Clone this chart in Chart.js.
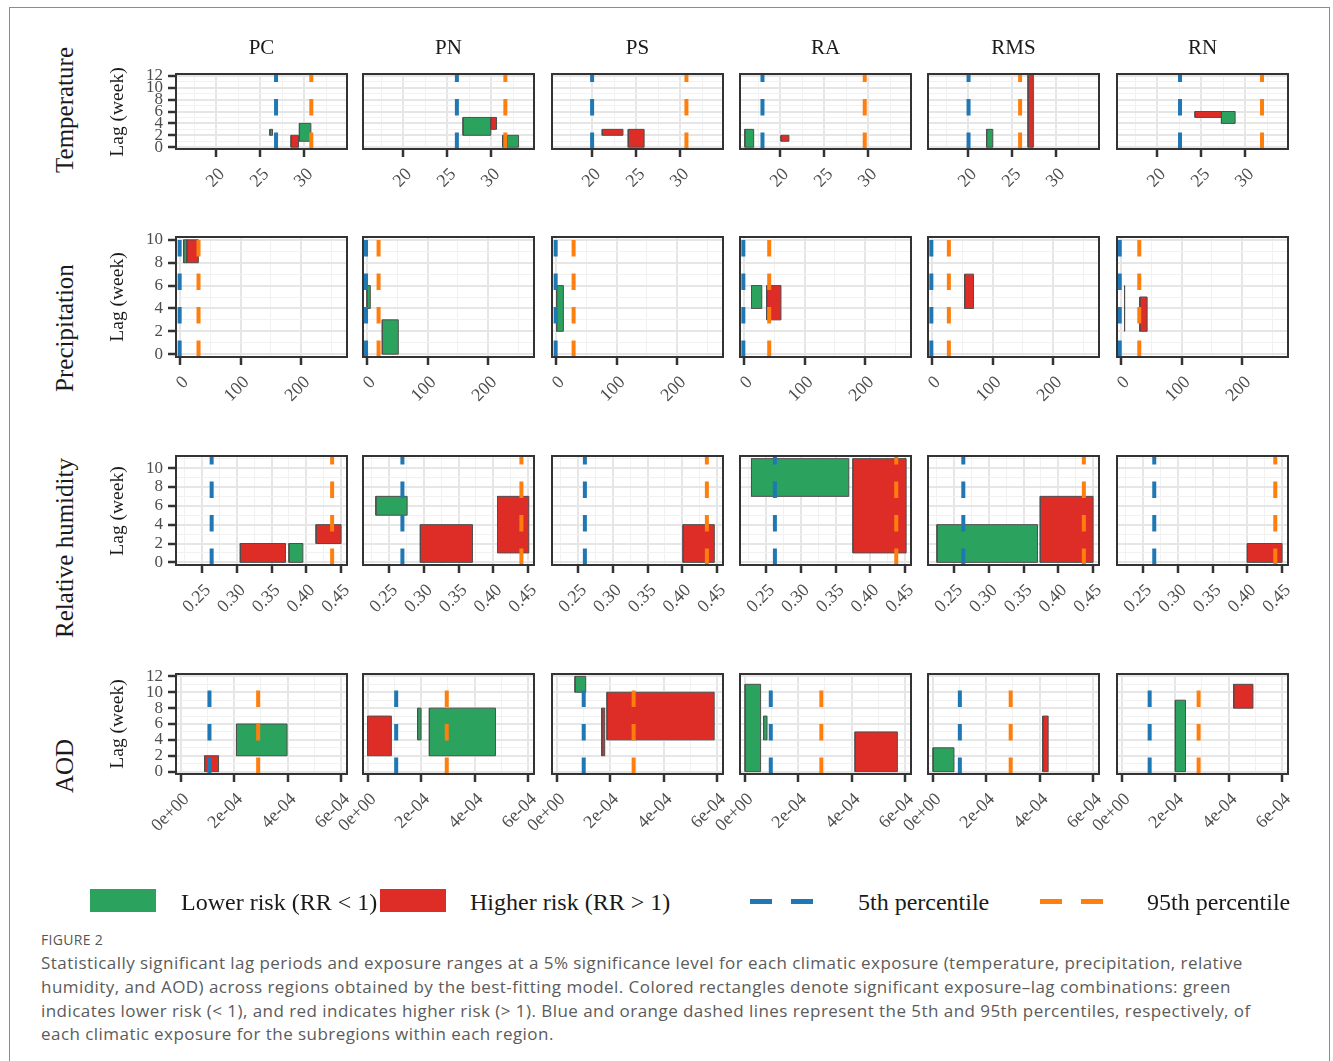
<!DOCTYPE html>
<html><head><meta charset="utf-8">
<script src="https://cdn.jsdelivr.net/npm/chart.js@4.4.1/dist/chart.umd.min.js"></script>
<style>
html,body{margin:0;padding:0;background:#fff;}
body{width:1333px;height:1061px;overflow:hidden;position:relative;font-family:'Liberation Serif',serif;}
.frame{position:absolute;left:9px;top:7px;width:1321px;height:1100px;border:1px solid #8c8c8c;box-sizing:border-box;}
canvas{position:absolute;}
.t{position:absolute;white-space:nowrap;color:#1a1a1a;transform:translate(0,-50%);line-height:1;}
.c{transform:translate(-50%,-50%);}
.r{transform:translate(-50%,-50%) rotate(-90deg);}
.sw{position:absolute;}
.cap{position:absolute;left:41px;white-space:nowrap;font-family:'Open Sans',sans-serif;color:#5b5b5b;font-size:17px;letter-spacing:0.45px;transform:translate(0,-50%);line-height:1.2;}
</style></head><body>
<div class="frame"></div>
<div id="root"></div>
<script>
// ---------------- DATA ----------------
const regions = ['PC', 'PN', 'PS', 'RA', 'RMS', 'RN'];
const exposures = ['Temperature', 'Precipitation', 'Relative humidity', 'AOD'];
const lagTitle = 'Lag (week)';

// Temperature
const tempTicks = [20, 25, 30];
const tempTickLabels = ['20', '25', '30'];
const tempLagTicks = [0, 2, 4, 6, 8, 10, 12];
const tempP5 = [26.8, 26.1, 20.0, 18.0, 20.05, 22.6];
const tempP95 = [30.8, 31.6, 30.7, 29.6, 25.9, 31.9];
const tempRects = [
  ['PC', 26.1, 26.4, 2, 3, 'low'],
  ['PC', 28.5, 29.35, 0, 2, 'high'],
  ['PC', 29.45, 30.75, 1, 4, 'low'],
  ['PN', 26.8, 29.95, 2, 5, 'low'],
  ['PN', 29.95, 30.6, 3, 5, 'high'],
  ['PN', 31.3, 31.8, 0, 2, 'high'],
  ['PN', 31.8, 33.1, 0, 2, 'low'],
  ['PS', 21.15, 23.5, 2, 3, 'high'],
  ['PS', 24.1, 25.9, 0, 3, 'high'],
  ['RA', 16.0, 17.0, 0, 3, 'low'],
  ['RA', 20.1, 21.0, 1, 2, 'high'],
  ['RMS', 22.1, 22.8, 0, 3, 'low'],
  ['RMS', 26.8, 27.4, 0, 12.3, 'high'],
  ['RN', 24.3, 27.3, 5, 6, 'high'],
  ['RN', 27.3, 28.85, 4, 6, 'low']
];

// Precipitation
const precTicks = [0, 100, 200];
const precTickLabels = ['0', '100', '200'];
const precLagTicks = [0, 2, 4, 6, 8, 10];
const precP5 = [0, -1, 0, -0.5, -0.5, -1.5];
const precP95 = [31, 19.6, 29.5, 42, 28.3, 30.6];
const precRects = [
  ['PC', 6.6, 12, 8, 10, 'low'],
  ['PC', 12, 30.7, 8, 10, 'high'],
  ['PN', 0.5, 6, 4, 6, 'low'],
  ['PN', 25.7, 52, 0, 3, 'low'],
  ['PS', 1.6, 12.7, 2, 6, 'low'],
  ['RA', 12.9, 29.8, 4, 6, 'low'],
  ['RA', 37.9, 61.3, 3, 6, 'high'],
  ['RMS', 54.3, 68.8, 4, 7, 'high'],
  ['RN', 6.2, 6.8, 2, 6, 'low'],
  ['RN', 31.5, 43.5, 2, 5, 'high']
];

// Relative humidity
const rhTicks = [0.25, 0.30, 0.35, 0.40, 0.45];
const rhTickLabels = ['0.25', '0.30', '0.35', '0.40', '0.45'];
const rhLagTicks = [0, 2, 4, 6, 8, 10];
const rhP5 = [0.2638, 0.2692, 0.2598, 0.2627, 0.2633, 0.2661];
const rhP95 = [0.4371, 0.4404, 0.4353, 0.4373, 0.4367, 0.4402];
const rhRects = [
  ['PC', 0.305, 0.370, 0, 2, 'high'],
  ['PC', 0.375, 0.395, 0, 2, 'low'],
  ['PC', 0.414, 0.450, 2, 4, 'high'],
  ['PN', 0.231, 0.276, 5, 7, 'low'],
  ['PN', 0.295, 0.370, 0, 4, 'high'],
  ['PN', 0.406, 0.451, 1, 7, 'high'],
  ['PS', 0.401, 0.446, 0, 4, 'high'],
  ['RA', 0.229, 0.369, 7, 11, 'low'],
  ['RA', 0.375, 0.4515, 1, 11, 'high'],
  ['RMS', 0.2254, 0.370, 0, 4, 'low'],
  ['RMS', 0.374, 0.450, 0, 7, 'high'],
  ['RN', 0.400, 0.450, 0, 2, 'high']
];

// AOD
const aodTicks = [0, 2e-4, 4e-4, 6e-4];
const aodTickLabels = ['0e+00', '2e-04', '4e-04', '6e-04'];
const aodLagTicks = [0, 2, 4, 6, 8, 10, 12];
const aodP5 = [1.08e-4, 1.07e-4, 1.015e-4, 0.98e-4, 1.02e-4, 1.05e-4];
const aodP95 = [2.9e-4, 2.96e-4, 2.88e-4, 2.87e-4, 2.92e-4, 2.88e-4];
const aodRects = [
  ['PC', 0.9e-4, 1.42e-4, 0, 2, 'high'],
  ['PC', 2.09e-4, 3.98e-4, 2, 6, 'low'],
  ['PN', 0, 0.89e-4, 2, 7, 'high'],
  ['PN', 1.87e-4, 2.0e-4, 4, 8, 'low'],
  ['PN', 2.31e-4, 4.78e-4, 2, 8, 'low'],
  ['PS', 0.69e-4, 1.09e-4, 10, 12, 'low'],
  ['PS', 1.69e-4, 1.8e-4, 2, 8, 'high'],
  ['PS', 1.886e-4, 5.89e-4, 4, 10, 'high'],
  ['RA', 0.02e-4, 0.6e-4, 0, 11, 'low'],
  ['RA', 0.71e-4, 0.84e-4, 4, 7, 'low'],
  ['RA', 4.13e-4, 5.71e-4, 0, 5, 'high'],
  ['RMS', 0.02e-4, 0.8e-4, 0, 3, 'low'],
  ['RMS', 4.12e-4, 4.32e-4, 0, 7, 'high'],
  ['RN', 2.01e-4, 2.39e-4, 0, 9, 'low'],
  ['RN', 4.19e-4, 4.91e-4, 8, 11, 'high']
];

const legendLabels = ['Lower risk (RR < 1)', 'Higher risk (RR > 1)', '5th percentile', '95th percentile'];
const figureLabel = 'FIGURE 2';
const captionLines = [
  'Statistically significant lag periods and exposure ranges at a 5% significance level for each climatic exposure (temperature, precipitation, relative',
  'humidity, and AOD) across regions obtained by the best-fitting model. Colored rectangles denote significant exposure\u2013lag combinations: green',
  'indicates lower risk (< 1), and red indicates higher risk (> 1). Blue and orange dashed lines represent the 5th and 95th percentiles, respectively, of',
  'each climatic exposure for the subregions within each region.'
];

// ---------------- STYLE / LAYOUT ----------------
const GREEN = '#2ca25f', RED = '#de2d26', BLUE = '#1f78b4', ORANGE = '#ff7f0e';
const COL_LEFT = [176, 363, 552, 740, 928, 1117];
const BOX_W = 171;
const ROW_BOX = [[74, 149], [237, 357], [456, 565], [674, 774]];
const ROW_LABEL_Y = [110, 328, 548, 766];
const PT = 26, PR = 34, XH = 95, YW = 60, PL_OTHER = 50;

const rows = [
  {ticks: tempTicks, labels: tempTickLabels, lag: tempLagTicks, p5: tempP5, p95: tempP95, rects: tempRects, xmin: 15.45, xmax: 34.85, ymin: -0.3, ymax: 12.3},
  {ticks: precTicks, labels: precTickLabels, lag: precLagTicks, p5: precP5, p95: precP95, rects: precRects, xmin: -6, xmax: 275, ymin: -0.25, ymax: 10.25},
  {ticks: rhTicks, labels: rhTickLabels, lag: rhLagTicks, p5: rhP5, p95: rhP95, rects: rhRects, xmin: 0.2125, xmax: 0.4585, ymin: -0.28, ymax: 11.28},
  {ticks: aodTicks, labels: aodTickLabels, lag: aodLagTicks, p5: aodP5, p95: aodP95, rects: aodRects, xmin: -1.7e-5, xmax: 6.22e-4, ymin: -0.3, ymax: 12.3}
];

function withMinors(majors, min, max) {
  const step = majors[1] - majors[0];
  const out = [];
  for (let v = majors[0] - step / 2; v <= max + 1e-12; v += step / 2) {
    if (v >= min - 1e-12) out.push(v);
  }
  return out;
}
function isMajor(v, majors) {
  const step = majors[1] - majors[0];
  return majors.some(m => Math.abs(m - v) < step * 1e-3);
}
function labelOf(v, majors, labels) {
  const step = majors[1] - majors[0];
  const i = majors.findIndex(m => Math.abs(m - v) < step * 1e-3);
  return i >= 0 ? labels[i] : '';
}

const boxBorder = {
  id: 'boxBorder',
  afterDraw(chart) {
    const {ctx, chartArea: a} = chart;
    ctx.save();
    ctx.strokeStyle = '#333333';
    ctx.lineWidth = 2;
    ctx.strokeRect(a.left, a.top, a.right - a.left, a.bottom - a.top);
    ctx.restore();
  }
};

function gridOpts(majors, showTicks) {
  return {
    color: c => (c.tick && isMajor(c.tick.value, majors)) ? '#e6e6e6' : '#f1f1f1',
    lineWidth: c => (c.tick && isMajor(c.tick.value, majors)) ? 2 : 1,
    drawTicks: showTicks,
    tickLength: 8,
    tickWidth: 2.5,
    tickColor: c => (c.tick && isMajor(c.tick.value, majors)) ? '#333333' : 'rgba(0,0,0,0)'
  };
}

const root = document.getElementById('root');

function addPanel(ri, ci) {
  const row = rows[ri];
  const region = regions[ci];
  const [top, bottom] = ROW_BOX[ri];
  const left = COL_LEFT[ci];
  const first = ci === 0;
  const padL = first ? 0 : PL_OTHER;
  const yw = first ? YW : 0;
  const cw = padL + yw + BOX_W + PR;
  const ch = PT + (bottom - top) + XH;
  const cv = document.createElement('canvas');
  cv.width = cw; cv.height = ch;
  cv.style.left = (left - padL - yw) + 'px';
  cv.style.top = (top - PT) + 'px';
  cv.style.width = cw + 'px'; cv.style.height = ch + 'px';
  root.appendChild(cv);

  const datasets = [];
  const vline = (x, color) => ({
    data: [{x: x, y: row.ymin}, {x: x, y: row.ymax}],
    borderColor: color, borderWidth: 4, borderDash: [16.5, 17], borderCapStyle: 'butt',
    pointRadius: 0, fill: false, tension: 0
  });
  datasets.push(vline(row.p95[ci], ORANGE));
  datasets.push(vline(row.p5[ci], BLUE));
  const rects = row.rects.filter(r => r[0] === region).slice().reverse();
  rects.forEach(r => {
    datasets.push({
      data: [{x: r[1], y: r[3]}, {x: r[2], y: r[3]}, {x: r[2], y: r[4]}, {x: r[1], y: r[4]}, {x: r[1], y: r[3]}],
      fill: 'shape',
      backgroundColor: r[5] === 'low' ? GREEN : RED,
      borderColor: '#4f4f4f', borderWidth: 1, borderJoinStyle: 'miter',
      pointRadius: 0, tension: 0
    });
  });

  const xVals = withMinors(row.ticks, row.xmin, row.xmax);
  const yVals = withMinors(row.lag, row.ymin, row.ymax);

  new Chart(cv, {
    type: 'line',
    data: {datasets},
    options: {
      responsive: false, animation: false, devicePixelRatio: 1,
      layout: {padding: {left: padL, top: PT, right: PR, bottom: 0}},
      plugins: {legend: {display: false}, tooltip: {enabled: false}},
      events: [],
      scales: {
        x: {
          type: 'linear', min: row.xmin, max: row.xmax,
          afterBuildTicks: s => { s.ticks = xVals.map(v => ({value: v})); },
          afterFit: s => { s.height = XH; },
          border: {display: false},
          grid: gridOpts(row.ticks, true),
          ticks: {
            autoSkip: false, maxRotation: 45, minRotation: 45, padding: 7, labelOffset: 6,
            color: '#4d4d4d', font: {family: 'Liberation Serif', size: 18},
            callback: v => labelOf(v, row.ticks, row.labels)
          }
        },
        y: {
          type: 'linear', min: row.ymin, max: row.ymax,
          afterBuildTicks: s => { s.ticks = yVals.map(v => ({value: v})); },
          afterFit: s => { s.width = yw; },
          border: {display: false},
          grid: gridOpts(row.lag, first),
          ticks: {
            display: first, autoSkip: false, padding: 5,
            color: '#4d4d4d', font: {family: 'Liberation Serif', size: 17},
            callback: v => labelOf(v, row.lag, row.lag.map(String))
          }
        }
      }
    },
    plugins: [boxBorder]
  });
}

for (let ri = 0; ri < rows.length; ri++)
  for (let ci = 0; ci < regions.length; ci++) addPanel(ri, ci);

// ---------------- TEXT ----------------
function addText(txt, x, y, cls, style) {
  const d = document.createElement('div');
  d.className = 't ' + cls;
  d.textContent = txt;
  d.style.left = x + 'px'; d.style.top = y + 'px';
  Object.assign(d.style, style || {});
  document.body.appendChild(d);
  return d;
}
regions.forEach((r, i) => addText(r, COL_LEFT[i] + BOX_W / 2, 47, 'c', {fontSize: '21px'}));
exposures.forEach((e, i) => addText(e, 64, ROW_LABEL_Y[i], 'r', {fontSize: '25px'}));
ROW_BOX.forEach(([t, b]) => addText(lagTitle, 117, (t + b) / 2, 'r', {fontSize: '19.5px'}));

// legend
function sw(x, y, w, h, color) {
  const d = document.createElement('div');
  d.className = 'sw';
  Object.assign(d.style, {left: x + 'px', top: y + 'px', width: w + 'px', height: h + 'px', background: color});
  document.body.appendChild(d);
}
sw(90, 889, 66, 23, GREEN);
sw(380, 889, 66, 23, RED);
sw(750, 898.5, 22, 5, BLUE); sw(791, 898.5, 22, 5, BLUE);
sw(1040, 898.5, 22, 5, ORANGE); sw(1081, 898.5, 22, 5, ORANGE);
const legX = [181, 470, 858, 1147];
legendLabels.forEach((l, i) => addText(l, legX[i], 902, '', {fontSize: '24px'}));

// caption
const fig = document.createElement('div');
fig.className = 'cap';
fig.textContent = figureLabel;
Object.assign(fig.style, {top: '940px', fontSize: '14px', letterSpacing: '0.3px', color: '#555'});
document.body.appendChild(fig);
const capY = [963, 987, 1011, 1034];
captionLines.forEach((l, i) => {
  const d = document.createElement('div');
  d.className = 'cap';
  d.textContent = l;
  d.style.top = capY[i] + 'px';
  document.body.appendChild(d);
});
</script>
</body></html>
